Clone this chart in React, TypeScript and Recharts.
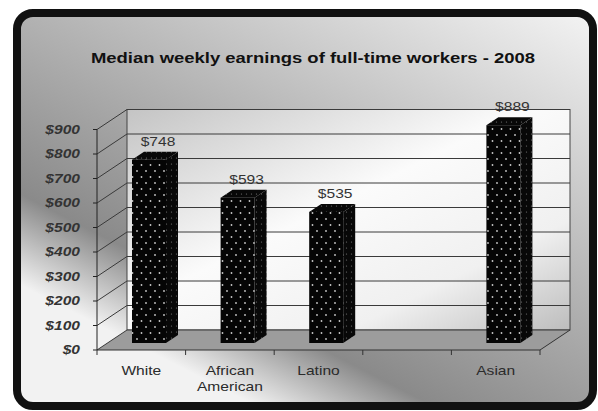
import React from 'react';
import { BarChart, Bar, XAxis, YAxis, CartesianGrid } from 'recharts';

const CATEGORIES = ['White', 'African American', 'Latino', '', 'Asian'];
const EARNINGS: (number | null)[] = [748, 593, 535, null, 889];
const Y_TICKS = [0, 100, 200, 300, 400, 500, 600, 700, 800, 900];
const TITLE = 'Median weekly earnings of full-time workers - 2008';

const W = 598;
const H = 411;
// front plane of the plot
const PLOT = { left: 97, right: 540, top: 129.5, bottom: 350 };
// offset of the back wall from the front plane
const DEPTH = { dx: 30, dy: -20 };
// bar: front face offset into depth, and bar's own depth
const BAR = { size: 34, offX: 8, offY: -7, dx: 12, dy: -8 };
const STRETCH = 1.3;
const FONT = '"Liberation Sans", Arial, sans-serif';
const BAND = (PLOT.right - PLOT.left) / CATEGORIES.length;

const rows = CATEGORIES.map((name, i) => ({ name, value: EARNINGS[i] }));

function gridLine(p: any) {
  const { x1, x2, y1, y2 } = p;
  return (
    <g>
      <line x1={x1 + DEPTH.dx} y1={y1 + DEPTH.dy} x2={x2 + DEPTH.dx} y2={y2 + DEPTH.dy} stroke="#3a3a3a" strokeWidth={1} />
      <line x1={x1} y1={y1} x2={x1 + DEPTH.dx} y2={y1 + DEPTH.dy} stroke="#3a3a3a" strokeWidth={1} />
    </g>
  );
}

function CategoryTick({ x, payload, index }: any) {
  const lines = payload.value ? String(payload.value).split(' ') : [];
  const half = BAND / 2;
  return (
    <g>
      <line x1={x - half} y1={PLOT.bottom} x2={x - half} y2={PLOT.bottom + 5} stroke="#333" />
      {index === CATEGORIES.length - 1 && (
        <line x1={x + half} y1={PLOT.bottom} x2={x + half} y2={PLOT.bottom + 5} stroke="#333" />
      )}
      <text
        transform={`translate(${x},${PLOT.bottom + 25}) scale(${STRETCH},1)`}
        textAnchor="middle"
        fontSize={12}
        fontFamily={FONT}
        fill="#2b2b2b"
      >
        {lines.map((l, i) => (
          <tspan key={i} x={0} dy={i ? 16 : 0}>{l}</tspan>
        ))}
      </text>
    </g>
  );
}

function ValueTick({ x, y, payload }: any) {
  return (
    <text
      transform={`translate(${x},${y}) scale(${STRETCH},1)`}
      textAnchor="end"
      dy="0.36em"
      fontSize={12}
      fontWeight="bold"
      fontStyle="italic"
      fontFamily={FONT}
      fill="#333"
    >
      ${payload.value}
    </text>
  );
}

function Bar3D(props: any) {
  const { x, y, width, height, payload } = props;
  if (payload?.value == null || !height) return null;
  const fx = x + BAR.offX;
  const fy = y + BAR.offY;
  const { dx, dy } = BAR;
  return (
    <g>
      <polygon
        points={`${fx + width},${fy} ${fx + width + dx},${fy + dy} ${fx + width + dx},${fy + height + dy} ${fx + width},${fy + height}`}
        fill="url(#dotsSide)"
      />
      <polygon
        points={`${fx},${fy} ${fx + dx},${fy + dy} ${fx + width + dx},${fy + dy} ${fx + width},${fy}`}
        fill="url(#dotsSide)"
      />
      <rect x={fx} y={fy} width={width} height={height} fill="url(#dotsFront)" />
      <text
        transform={`translate(${fx + (width + dx) / 2 + 3},${fy + dy - 6}) scale(${STRETCH},1)`}
        textAnchor="middle"
        fontSize={12}
        fontFamily={FONT}
        fill="#333"
      >
        ${payload.value}
      </text>
    </g>
  );
}

export default function App() {
  const backL = PLOT.left + DEPTH.dx;
  const backR = PLOT.right + DEPTH.dx;
  const backT = PLOT.top + DEPTH.dy;
  const backB = PLOT.bottom + DEPTH.dy;
  return (
    <div style={{ position: 'absolute', left: 0, top: 0, width: W, height: H, background: '#fff' }}>
      <svg width={W} height={H} style={{ position: 'absolute', left: 0, top: 0 }}>
        <defs>
          <linearGradient id="bgGrad" gradientUnits="userSpaceOnUse" x1={-6.6} y1={271.2} x2={240} y2={-209.5}>
            <stop offset="0" stopColor="#f2f2f2" />
            <stop offset="0.15" stopColor="#8a8a8a" />
            <stop offset="0.47" stopColor="#b5b5b5" />
            <stop offset="0.98" stopColor="#fafafa" />
          </linearGradient>
          <linearGradient id="wallGrad" x1="0" y1="0" x2="1" y2="1">
            <stop offset="0" stopColor="#c4c4c4" />
            <stop offset="0.45" stopColor="#fbfbfb" />
            <stop offset="0.75" stopColor="#f0f0f0" />
            <stop offset="1" stopColor="#bdbdbd" />
          </linearGradient>
          <pattern id="dotsFront" width={9} height={12} patternUnits="userSpaceOnUse">
            <rect width={9} height={12} fill="#050505" />
            <circle cx={2} cy={3} r={0.9} fill="#c8c8c8" />
            <circle cx={6.5} cy={9} r={0.9} fill="#c8c8c8" />
          </pattern>
          <pattern id="dotsSide" width={5} height={6} patternUnits="userSpaceOnUse">
            <rect width={5} height={6} fill="#080808" />
            <circle cx={1.5} cy={2} r={0.6} fill="#777" />
          </pattern>
        </defs>
        <rect x={17} y={13} width={576} height={393} rx={16} fill="url(#bgGrad)" stroke="#111" strokeWidth={8} />
        <text
          transform={`translate(313,63) scale(1.32,1)`}
          textAnchor="middle"
          fontSize={14}
          fontWeight="bold"
          fontFamily={FONT}
          fill="#111"
        >
          {TITLE}
        </text>
        <rect x={backL} y={backT} width={backR - backL} height={backB - backT} fill="url(#wallGrad)" stroke="#444" />
        <polygon
          points={`${PLOT.left},${PLOT.bottom} ${PLOT.right},${PLOT.bottom} ${backR},${backB} ${backL},${backB}`}
          fill="#9c9c9c"
        />
        <line x1={PLOT.right} y1={PLOT.bottom} x2={backR} y2={backB} stroke="#333" />
      </svg>
      <div style={{ position: 'absolute', left: 0, top: 0 }}>
        <BarChart
          width={W}
          height={H}
          data={rows}
          margin={{ top: PLOT.top, right: W - PLOT.right, bottom: H - PLOT.bottom - 40, left: PLOT.left - 60 }}
        >
          <CartesianGrid vertical={false} horizontal={gridLine} />
          <XAxis
            dataKey="name"
            height={40}
            interval={0}
            axisLine={{ stroke: '#333' }}
            tickLine={false}
            tick={<CategoryTick />}
          />
          <YAxis
            width={60}
            domain={[0, 900]}
            ticks={Y_TICKS}
            tickSize={4}
            tickMargin={13}
            axisLine={{ stroke: '#222' }}
            tickLine={{ stroke: '#222' }}
            tick={<ValueTick />}
          />
          <Bar dataKey="value" barSize={BAR.size} shape={<Bar3D />} isAnimationActive={false} />
        </BarChart>
      </div>
    </div>
  );
}
